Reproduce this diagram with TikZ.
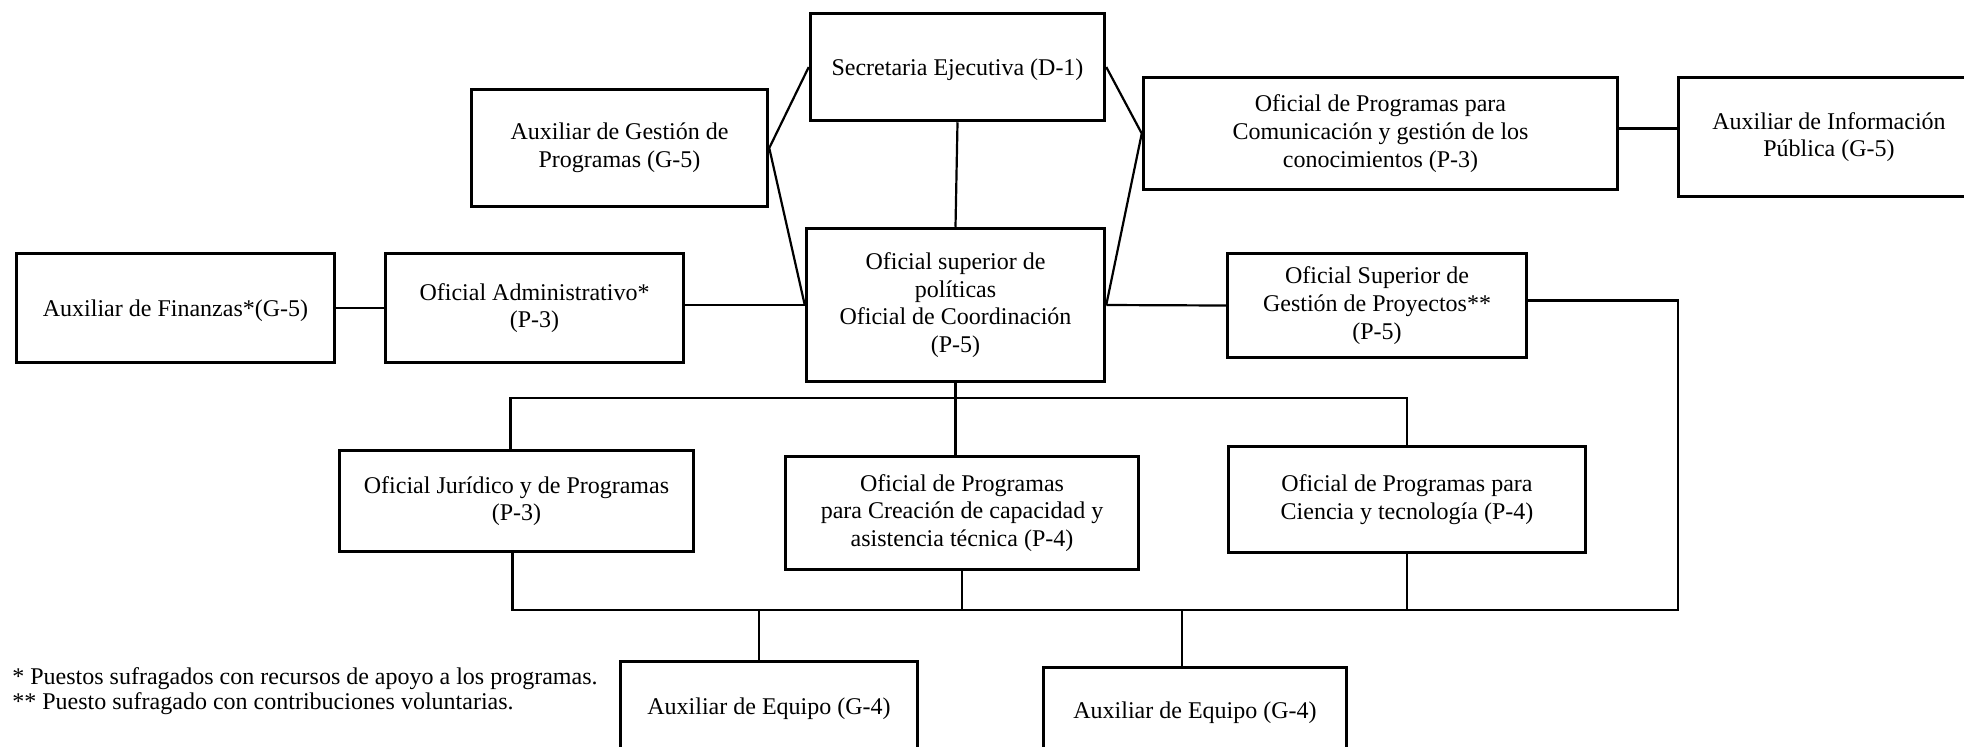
\documentclass[tikz,border=0pt]{standalone}
\usepackage{fontspec}
\setmainfont{Liberation Serif}
\begin{document}
\begin{tikzpicture}[x=0.5pt,y=-0.5pt,
  box/.style={draw, line width=1.75pt, fill=white, align=center, inner sep=0pt,
    font=\fontsize{12}{13.8}\selectfont, execute at begin node={\rule{0pt}{11pt}}},
  conn/.style={line width=1.1pt, line join=miter}]
\useasboundingbox (0,0) rectangle (1964,746);
\clip (0,0) rectangle (1964,746);

% nodes
\node[box, minimum width=147pt, minimum height=53.5pt] (sec) at (957.5,67) {Secretaria Ejecutiva (D-1)};
\node[box, minimum width=148pt, minimum height=58.5pt] (aux) at (619.5,148) {Auxiliar de Gestión de\\Programas (G-5)};
\node[box, minimum width=237pt, minimum height=56pt] (com) at (1380.5,133.5) {Oficial de Programas para\\Comunicación y gestión de los\\conocimientos (P-3)};
\node[box, minimum width=150.5pt, minimum height=59.5pt] (info) at (1829,137) {Auxiliar de Información\\Pública (G-5)};
\node[box, minimum width=159pt, minimum height=54.5pt] (fin) at (175.5,308) {Auxiliar de Finanzas*(G-5)};
\node[box, minimum width=149pt, minimum height=54.5pt] (adm) at (534.5,308) {Oficial Administrativo*\\(P-3)};
\node[box, minimum width=149pt, minimum height=76.5pt] (sup) at (955.5,305) {Oficial superior de\\políticas\\Oficial de Coordinación\\(P-5)};
\node[box, minimum width=149.5pt, minimum height=52pt] (proy) at (1377,305.5) {Oficial Superior de\\Gestión de Proyectos**\\(P-5)};
\node[box, minimum width=177pt, minimum height=50.5pt] (jur) at (516.5,501) {Oficial Jurídico y de Programas\\(P-3)};
\node[box, minimum width=176.5pt, minimum height=56.5pt] (cre) at (962,513) {Oficial de Programas\\para Creación de capacidad y\\asistencia técnica (P-4)};
\node[box, minimum width=178.5pt, minimum height=53pt] (cie) at (1407,499.5) {Oficial de Programas para\\Ciencia y tecnología (P-4)};
\node[box, minimum width=148.5pt, minimum height=44.5pt] (eq1) at (769,706) {Auxiliar de Equipo (G-4)};
\node[box, minimum width=151.5pt, minimum height=42.5pt] (eq2) at (1195,710) {Auxiliar de Equipo (G-4)};

\node[anchor=west, align=left, inner sep=0pt, font=\fontsize{12}{12.5}\selectfont] (notes) at (12,691)
  {* Puestos sufragados con recursos de apoyo a los programas.\\** Puesto sufragado con contribuciones voluntarias.};

% helper coordinates
\coordinate (tb) at (0,398);
\coordinate (bb) at (0,610);
\coordinate (rx) at (1678,0);

% connectors
\draw[conn] (sec.west) -- (aux.east) -- (sup.west);
\draw[conn] (sec.east) -- (com.west) -- (sup.east);
\draw[conn] (sec.south) -- (sup.north);
\draw[conn] (fin.east) -- (adm.west);
\draw[conn] (adm.east |- sup.west) -- (sup.west);
\draw[conn] ([yshift=2.5pt]com.east) -- ([yshift=2.5pt]com.east -| info.west);
\draw[conn] (sup.east) -- (proy.west);
\draw[conn] (sup.south) -- (sup.south |- cre.north);
\draw[conn] ([xshift=-3pt]jur.north) |- (tb -| cie.north) -- (cie.north);
\draw[conn] ([xshift=-2pt]jur.south) |- (bb -| rx) |- ([yshift=2.5pt]proy.east);
\draw[conn] (cre.south) -- (cre.south |- bb);
\draw[conn] (cie.south) -- (cie.south |- bb);
\draw[conn] ([xshift=-5pt]eq1.north) -- ([xshift=-5pt]eq1.north |- bb);
\draw[conn] ([xshift=-6.5pt]eq2.north) -- ([xshift=-6.5pt]eq2.north |- bb);
\end{tikzpicture}
\end{document}
